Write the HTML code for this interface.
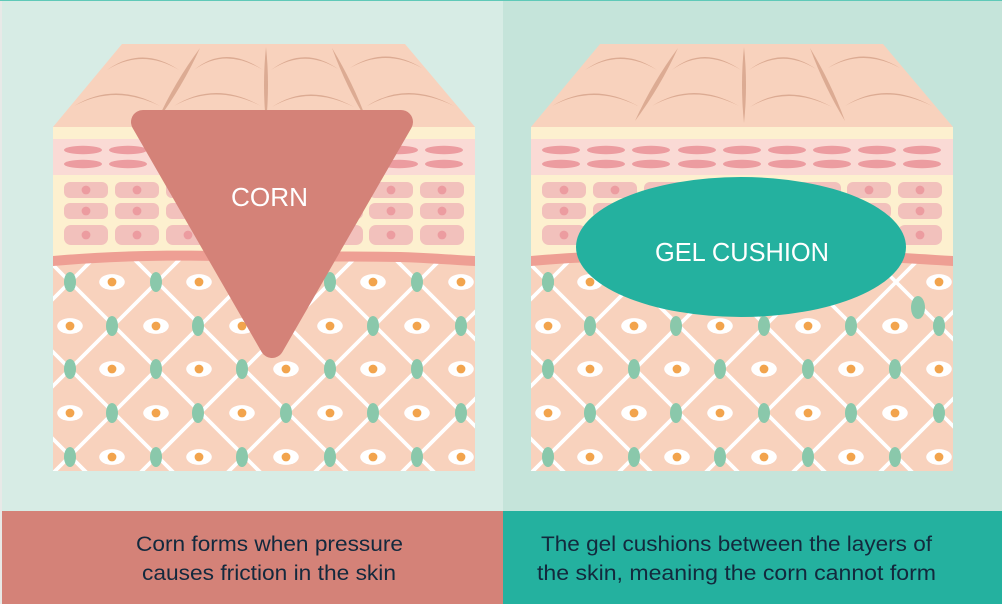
<!DOCTYPE html>
<html>
<head>
<meta charset="utf-8">
<style>
html,body{margin:0;padding:0;background:#fff}
svg{display:block}
text{font-family:"Liberation Sans",sans-serif}
</style>
</head>
<body>
<svg xmlns="http://www.w3.org/2000/svg" width="1002" height="604" viewBox="0 0 1002 604">
<defs>
<clipPath id="c"><rect x="53" y="258" width="422" height="213"/></clipPath>
<g id="eyeRow">
<ellipse cx="0" cy="0" rx="12.8" ry="7.9" fill="#fff"/><circle cx="0" cy="0" r="4.4" fill="#f2a44d"/>
</g>
<g id="m"><ellipse cx="83" cy="150" rx="19" ry="4.2"/><ellipse cx="83" cy="164" rx="19" ry="4.2"/></g>
<g id="f">
<rect x="64" y="182" width="44" height="16" rx="6" fill="#f2c1bc"/><circle cx="86" cy="190" r="4.4" fill="#ec9ca0"/>
<rect x="64" y="203" width="44" height="16" rx="6" fill="#f2c1bc"/><circle cx="86" cy="211" r="4.4" fill="#ec9ca0"/>
<rect x="64" y="225" width="44" height="20" rx="7" fill="#f2c1bc"/><circle cx="86" cy="235" r="4.4" fill="#ec9ca0"/>
</g>
<ellipse id="g" cx="0" cy="0" rx="6" ry="10" fill="#8ac8ab"/>
<g id="skin">
<polygon points="122,44 405,44 475,127 53,127" fill="#f8d2bd"/>
<g fill="#dcab93">
<path d="M107 70Q142 45 179 70Q142 48 107 70Z"/>
<path d="M74 106Q115 81 160 106Q115 84 74 106Z"/>
<path d="M194 70Q225 44 263 70Q225 47 194 70Z"/>
<path d="M174 106Q215 80 261 106Q215 83 174 106Z"/>
<path d="M271 70Q304 45 338 69Q304 48 271 70Z"/>
<path d="M272 107Q309 82 354 107Q309 85 272 107Z"/>
<path d="M350 68Q385 45 422 68Q385 48 350 68Z"/>
<path d="M367 106Q407 80 454 106Q407 83 367 106Z"/>
<path d="M200 48Q182.4 86.8 157 121Q174.6 82.2 200 48Z"/>
<path d="M266 47Q262 85 266 123Q270 85 266 47Z"/>
<path d="M332 48Q345.9 86.2 367 121Q353.1 82.8 332 48Z"/>
</g>
<rect x="53" y="127" width="422" height="12" fill="#fdf0cf"/>
<rect x="53" y="139" width="422" height="36" fill="#fadad5"/>
<rect x="53" y="175" width="422" height="90" fill="#fdf0cf"/>
<g fill="#ec9ca0">
<use href="#m"/><use href="#m" x="45"/><use href="#m" x="90"/><use href="#m" x="136"/><use href="#m" x="181"/><use href="#m" x="226"/><use href="#m" x="271"/><use href="#m" x="316"/><use href="#m" x="361"/>
</g>
<use href="#f"/><use href="#f" x="51"/><use href="#f" x="102"/><use href="#f" x="153"/><use href="#f" x="204"/><use href="#f" x="255"/><use href="#f" x="305"/><use href="#f" x="356"/>
<rect x="53" y="258" width="422" height="213" fill="#f8d2bd"/>
<g clip-path="url(#c)">
<path fill="none" stroke="#fff" stroke-width="3.8" d="M-136 250L94 480M-49 250L181 480M38 250L268 480M125 250L355 480M212 250L442 480M299 250L529 480M386 250L616 480M102 250L-128 480M189 250L-41 480M276 250L46 480M363 250L133 480M450 250L220 480M537 250L307 480M624 250L394 480"/>
<use href="#eyeRow" x="112" y="282"/><use href="#eyeRow" x="199" y="282"/><use href="#eyeRow" x="286" y="282"/><use href="#eyeRow" x="373" y="282"/><use href="#eyeRow" x="461" y="282"/>
<use href="#eyeRow" x="70" y="326"/><use href="#eyeRow" x="156" y="326"/><use href="#eyeRow" x="242" y="326"/><use href="#eyeRow" x="330" y="326"/><use href="#eyeRow" x="417" y="326"/>
<use href="#eyeRow" x="112" y="369"/><use href="#eyeRow" x="199" y="369"/><use href="#eyeRow" x="286" y="369"/><use href="#eyeRow" x="373" y="369"/><use href="#eyeRow" x="461" y="369"/>
<use href="#eyeRow" x="70" y="413"/><use href="#eyeRow" x="156" y="413"/><use href="#eyeRow" x="242" y="413"/><use href="#eyeRow" x="330" y="413"/><use href="#eyeRow" x="417" y="413"/>
<use href="#eyeRow" x="112" y="457"/><use href="#eyeRow" x="199" y="457"/><use href="#eyeRow" x="286" y="457"/><use href="#eyeRow" x="373" y="457"/><use href="#eyeRow" x="461" y="457"/>
<use href="#g" x="112" y="326"/><use href="#g" x="198" y="326"/><use href="#g" x="286" y="326"/><use href="#g" x="373" y="326"/><use href="#g" x="461" y="326"/>
<use href="#g" x="70" y="369"/><use href="#g" x="156" y="369"/><use href="#g" x="242" y="369"/><use href="#g" x="330" y="369"/><use href="#g" x="417" y="369"/>
<use href="#g" x="112" y="413"/><use href="#g" x="198" y="413"/><use href="#g" x="286" y="413"/><use href="#g" x="373" y="413"/><use href="#g" x="461" y="413"/>
<use href="#g" x="70" y="457"/><use href="#g" x="156" y="457"/><use href="#g" x="242" y="457"/><use href="#g" x="330" y="457"/><use href="#g" x="417" y="457"/>
<use href="#g" x="70" y="282"/>
</g>
<path d="M53 256C110 251 160 250 220 251C290 252 340 251 400 252C430 253 455 255 475 256V266C455 265 430 263 400 262C340 261 290 262 220 261C160 260 110 261 53 266Z" fill="#ee9f94"/>
</g>
</defs>

<rect width="1002" height="604" fill="#d7ece5"/>
<rect x="503" y="0" width="499" height="511" fill="#c5e4da"/>
<rect x="0" y="0" width="2" height="604" fill="#e8e9e7"/>
<rect x="0" y="0" width="1002" height="1" fill="#5fc9b8"/>
<rect x="2" y="511" width="501" height="93" fill="#d48278"/>
<rect x="503" y="511" width="499" height="93" fill="#24b19f"/>

<use href="#skin"/>
<use href="#skin" x="478"/>
<g>
<use href="#g" x="548" y="282"/>
<use href="#g" x="330" y="282"/><use href="#g" x="417" y="282"/>
<use href="#g" x="156" y="282"/>
<use href="#g" x="242" y="282"/>
</g>
<ellipse cx="918" cy="307.5" rx="7" ry="11.5" fill="#8ac8ab"/>

<polygon points="143,122 401,122 272,346" fill="#d48278" stroke="#d48278" stroke-width="24" stroke-linejoin="round"/>
<ellipse cx="741" cy="247" rx="165" ry="70" fill="#24b19f"/>

<text x="231" y="206" font-size="26" fill="#fff" textLength="77" lengthAdjust="spacingAndGlyphs">CORN</text>
<text x="655" y="261" font-size="26" fill="#fff" textLength="174" lengthAdjust="spacingAndGlyphs">GEL CUSHION</text>

<g font-size="21" fill="#13293d">
<text x="136" y="551" textLength="267" lengthAdjust="spacingAndGlyphs">Corn forms when pressure</text>
<text x="142" y="580" textLength="254" lengthAdjust="spacingAndGlyphs">causes friction in the skin</text>
<text x="541" y="551" textLength="391" lengthAdjust="spacingAndGlyphs">The gel cushions between the layers of</text>
<text x="537" y="580" textLength="399" lengthAdjust="spacingAndGlyphs">the skin, meaning the corn cannot form</text>
</g>
</svg>
</body>
</html>
